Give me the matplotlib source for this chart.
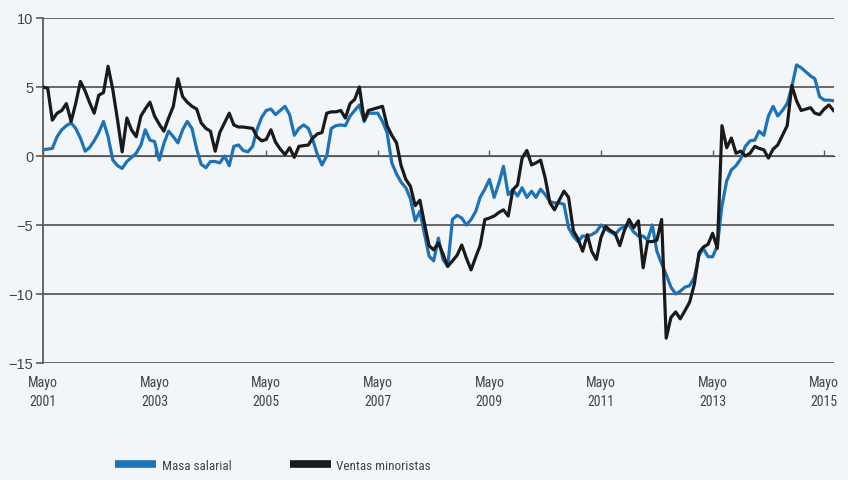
"""Masa salarial vs ventas minoristas, variación anual (%), mayo 2001 - 2015."""

import matplotlib

matplotlib.use("Agg")
import matplotlib.dates as mdates
import matplotlib.font_manager as fm
import matplotlib.pyplot as plt
import pandas as pd

START = "2001-05-01"

masa_salarial = [
    0.45, 0.5, 0.55, 1.4, 1.9, 2.2, 2.4, 2.0, 1.3, 0.35,
    0.6, 1.1, 1.7, 2.5, 1.4, -0.3, -0.7, -0.9, -0.4, -0.1,
    0.2, 0.8, 1.9, 1.15, 1.05, -0.3, 0.9, 1.8, 1.4, 0.95,
    1.9, 2.5, 2.0, 0.5, -0.6, -0.85, -0.4, -0.4, -0.5, 0.0,
    -0.7, 0.7, 0.8, 0.4, 0.3, 0.7, 1.9, 2.8, 3.3, 3.4,
    3.0, 3.3, 3.6, 3.0, 1.5, 2.0, 2.25, 2.0, 1.2, 0.1,
    -0.65, 0.0, 2.0, 2.2, 2.25, 2.2, 2.9, 3.3, 3.7, 2.5,
    3.1, 3.1, 3.1, 2.5, 1.7, -0.5, -1.3, -1.9, -2.3, -3.1,
    -4.7, -4.0, -5.6, -7.25, -7.6, -5.95, -7.5, -8.0, -4.6, -4.3,
    -4.5, -5.0, -4.6, -4.0, -3.0, -2.4, -1.7, -3.0, -2.0, -0.75,
    -2.8, -2.45, -2.9, -2.3, -3.0, -2.55, -3.0, -2.4, -2.8, -3.3,
    -3.4, -3.4, -3.5, -5.2, -5.8, -6.2, -5.8, -5.8, -5.7, -5.5,
    -5.0, -5.3, -5.5, -5.7, -5.3, -5.1, -5.0, -5.5, -5.8, -5.8,
    -6.1, -5.0, -6.9, -7.8, -8.6, -9.5, -10.0, -9.8, -9.5, -9.4,
    -8.8, -7.2, -6.7, -7.3, -7.3, -6.5, -3.6, -1.8, -1.0, -0.7,
    -0.2, 0.7, 1.1, 1.15, 1.8, 1.5, 2.9, 3.6, 2.9, 3.3,
    3.8, 5.0, 6.6, 6.4, 6.1, 5.8, 5.6, 4.3, 4.05, 4.05,
    4.0,
]

ventas_minoristas = [
    5.0, 4.9, 2.6, 3.1, 3.3, 3.8, 2.5, 3.8, 5.4, 4.7,
    3.9, 3.1, 4.4, 4.6, 6.5, 4.8, 2.6, 0.3, 2.75, 1.9,
    1.4, 2.9, 3.4, 3.9, 2.9, 2.3, 1.8, 2.75, 3.6, 5.6,
    4.3, 3.9, 3.6, 3.4, 2.4, 2.0, 1.8, 0.35, 1.7, 2.4,
    3.1, 2.25, 2.1, 2.1, 2.05, 2.0, 1.4, 1.1, 1.2, 1.9,
    1.0, 0.5, 0.1, 0.6, -0.1, 0.7, 0.75, 0.8, 1.3, 1.6,
    1.7, 3.1, 3.2, 3.2, 3.3, 2.75, 3.8, 4.1, 5.0, 2.6,
    3.3, 3.4, 3.5, 3.6, 2.2, 1.5, 0.95, -0.7, -1.7, -2.2,
    -3.6, -3.2, -4.85, -6.5, -6.8, -6.3, -7.1, -8.0, -7.6, -7.2,
    -6.45, -7.4, -8.25, -7.3, -6.5, -4.6, -4.5, -4.35, -4.1, -3.9,
    -4.35, -2.45, -2.1, -0.15, 0.4, -0.65, -0.5, -0.3, -1.6, -3.4,
    -3.9, -3.2, -2.55, -3.0, -5.4, -6.0, -6.9, -5.7, -6.9, -7.5,
    -5.9, -5.1, -5.4, -5.6, -6.5, -5.4, -4.6, -5.2, -4.7, -8.1,
    -6.2, -6.2, -6.1, -4.6, -13.2, -11.7, -11.3, -11.8, -11.2, -10.6,
    -9.3, -7.0, -6.6, -6.4, -5.6, -6.7, 2.2, 0.6, 1.3, 0.2,
    0.35, 0.0, 0.2, 0.7, 0.55, 0.45, -0.15, 0.5, 0.8, 1.5,
    2.2, 5.1, 4.0, 3.3, 3.4, 3.5, 3.1, 3.0, 3.4, 3.7,
    3.3,
]

tick_years = [2001, 2003, 2005, 2007, 2009, 2011, 2013, 2015]
y_ticks = [10, 5, 0, -5, -10, -15]

BG = "#f3f6f9"
BLUE = "#1d72b8"
BLACK = "#1a1a1a"
GRID = "#5c5c5c"
TEXT = "#444444"


def pick_narrow_font() -> tuple[str, str]:
    """Return (family, stretch) for the narrowest sans face that is installed."""
    entries = fm.fontManager.ttflist
    names = {f.name for f in entries}
    for name in ["Liberation Sans Narrow", "Roboto Condensed", "Open Sans Condensed", "Noto Sans Condensed"]:
        if name in names:
            return name, "normal"
    for name in ["Noto Sans", "Open Sans", "Roboto", "DejaVu Sans"]:
        for f in entries:
            if f.name == name and str(f.stretch) in ("condensed", "semi-condensed", "extra-condensed"):
                return name, str(f.stretch)
    return "Liberation Sans", "normal"


narrow_family, narrow_stretch = pick_narrow_font()
plt.rcParams["font.family"] = ["Liberation Sans", "DejaVu Sans"]
narrow = dict(family=[narrow_family, "DejaVu Sans"], stretch=narrow_stretch)

dates = pd.date_range(START, periods=len(masa_salarial), freq="MS")
x = mdates.date2num(dates.to_pydatetime())
tick_pos = mdates.date2num([pd.Timestamp(f"{y}-05-01").to_pydatetime() for y in tick_years])
tick_labels = [f"Mayo\n{y}" for y in tick_years]

fig = plt.figure(figsize=(8.48, 4.81), dpi=100, facecolor=BG)
ax = fig.add_axes([43 / 848, 1 - 364 / 481, (833.5 - 43) / 848, (364 - 19) / 481])
ax.set_facecolor(BG)

ax.plot(x, masa_salarial, color=BLUE, linewidth=2.3, label="Masa salarial", zorder=3)
ax.plot(x, ventas_minoristas, color=BLACK, linewidth=2.3, label="Ventas minoristas", zorder=4)

ax.set_xlim(x[0], x[-1])
ax.set_ylim(-15, 10)
ax.set_yticks(y_ticks)
ax.set_yticklabels([str(v).replace("-", "\u2212") for v in y_ticks], fontsize=10.5, color=TEXT)
ax.yaxis.grid(True, color=GRID, linewidth=1.3)
ax.set_axisbelow(True)

ax.set_xticks(tick_pos)
ax.set_xticklabels(tick_labels, fontsize=10, color=TEXT, linespacing=1.45, **narrow)
ax.tick_params(axis="x", length=0, pad=9)
ax.tick_params(axis="y", length=5, width=1.2, color=GRID, pad=2)

for side in ["top", "right", "bottom"]:
    ax.spines[side].set_visible(False)
ax.spines["left"].set_color(GRID)
ax.spines["left"].set_linewidth(1.3)

# small year ticks sitting on the zero line
zero_axis = ax.secondary_xaxis(15 / 25)
zero_axis.set_xticks(tick_pos)
zero_axis.set_xticklabels([])
zero_axis.tick_params(length=4, width=1.0, color=GRID, direction="out")
zero_axis.spines["bottom"].set_visible(False)

leg = fig.legend(
    loc="lower center",
    bbox_to_anchor=(0.322, -0.008),
    ncol=2,
    frameon=False,
    prop=fm.FontProperties(family=[narrow_family, "DejaVu Sans"], stretch=narrow_stretch, size=9.5),
    handlelength=3.1,
    columnspacing=4.4,
    handletextpad=0.45,
)
for line in leg.get_lines():
    line.set_linewidth(5.5)
    line.set_solid_capstyle("butt")
for text in leg.get_texts():
    text.set_color(TEXT)

fig.savefig("out.png", dpi=100, facecolor=BG)
